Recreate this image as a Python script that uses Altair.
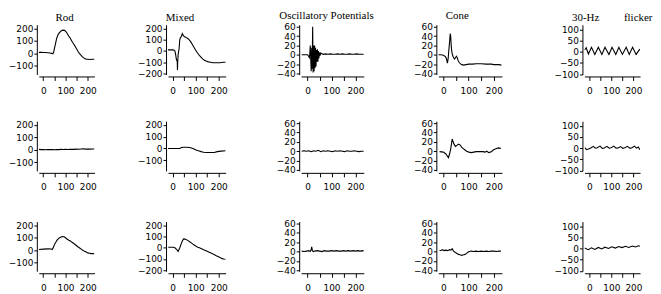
import altair as alt
import pandas as pd

# ---------------- data ----------------
col_titles = ["Rod", "Mixed", "Oscillatory Potentials", "Cone",
              "30-Hz" + "\u00a0" * 9 + "flicker"]

x_ticks = [0, 50, 100, 150, 200]
rod_y_ticks = [-100, 0, 100, 200]
mixed_y_ticks = [-200, -100, 0, 100, 200]
op_y_ticks = [-40, -20, 0, 20, 40, 60]
cone_y_ticks = [-40, -20, 0, 20, 40, 60]
flicker_y_ticks = [-100, -50, 0, 50, 100]

# Row 1
rod1_t = [-20, -10, 0, 10, 20, 30, 38, 43, 47, 50, 54, 57, 60, 64, 68, 72, 76, 80, 85, 90, 95, 100,
          107, 114, 120, 125, 130, 136, 142, 147, 152, 157, 162, 168, 174, 179, 186, 193, 200, 210, 220, 230]
rod1_v = [8, 8, 7, 7, 5, 3, 0, -4, 10, 38, 70, 95, 118, 140, 155, 165, 173, 180, 185, 187, 185, 178,
          162, 140, 125, 110, 93, 77, 60, 45, 29, 13, 0, -12, -24, -33, -42, -48, -48, -49, -48, -48]

mixed1_t = [-20, -10, 0, 5, 10, 13, 16, 18, 20, 21, 22, 24, 26, 28, 31, 34, 38, 42, 46, 50, 55, 60,
            67, 74, 81, 88, 95, 102, 109, 116, 123, 130, 138, 145, 155, 165, 175, 190, 205, 220, 230]
mixed1_v = [10, 10, 10, 8, 0, -30, -70, -85, -90, -170, -100, -30, -5, 20, 100, 120, 130, 155, 140, 130, 125, 120,
            110, 95, 75, 50, 25, 0, -20, -40, -55, -70, -82, -90, -97, -100, -105, -105, -105, -100, -100]

op1_t = [-25, -15, -5, 0, 4, 7, 9, 11, 13, 15, 17, 19, 21, 23, 25, 27, 29, 31, 33, 35, 37, 39, 41, 43, 45,
         47, 49, 52, 55, 60, 65, 75, 85, 95, 105, 115, 125, 135, 145, 155, 165, 175, 185, 195, 205, 215, 225, 235]
op1_v = [0, 0, 0, 0, -3, -6, 2, 20, -10, -35, 15, -30, 60, -38, 20, -35, 20, -28, 15, -25, 10, -15, 12, -15, 8,
         -8, 5, -2, 4, 2, 1, 2, 1, 2, 1, 1, 2, 1, 2, 1, 1, 2, 1, 1, 2, 1, 1, 1]

cone1_t = [-20, -10, 0, 8, 12, 16, 19, 22, 25, 27, 29, 31, 33, 36, 40, 44, 48, 52, 55, 58, 62, 67, 73, 80, 90,
           100, 115, 130, 150, 170, 190, 200, 210, 220, 230]
cone1_v = [0, 0, -1, -4, -8, -18, -8, 12, 30, 45, 40, 20, 8, 0, -6, -9, -6, -3, -6, -12, -16, -19, -21, -22, -21,
           -20, -20, -19, -19, -20, -20, -21, -21, -21, -22]

flick1_t = [-21, -14, -4, 10, 25, 41, 57, 71, 89, 103, 120, 134, 150, 167, 181, 196, 212, 229]
flick1_v = [8, 18, -10, 20, -12, 20, -12, 20, -12, 20, -12, 20, -12, 20, -12, 20, -12, 12]

# Row 2
rod2_t = [-20, -10, 0, 10, 20, 30, 40, 50, 60, 70, 80, 90, 100, 110, 120, 130, 140, 150, 160, 170, 180, 190,
          200, 210, 220, 230]
rod2_v = [3, 1, 2, 0, 1, 2, 1, 0, 2, 1, 3, 2, 4, 2, 3, 4, 3, 5, 4, 6, 8, 5, 6, 5, 6, 6]

mixed2_t = [-20, 0, 20, 31, 38, 50, 60, 74, 88, 102, 112, 123, 135, 145, 160, 180, 194, 210, 230]
mixed2_v = [0, 0, 0, 0, 8, 10, 10, 8, 0, -13, -20, -27, -32, -35, -35, -35, -27, -23, -20]

op2_t = [-25, -15, -5, 5, 15, 25, 35, 45, 55, 65, 75, 85, 95, 105, 115, 125, 135, 145, 155, 165, 175, 185,
         195, 205, 215, 225, 235]
op2_v = [0, 1, 0, 1, -1, 1, 0, 2, -1, 1, 0, 1, 0, -1, 1, 0, 1, 0, -1, 1, 0, 0, 1, 0, -1, 0, 0]

cone2_t = [-15, 0, 10, 20, 25, 29, 35, 42, 48, 55, 60, 67, 73, 82, 92, 101, 111, 120, 130, 140, 148, 157,
           165, 172, 180, 190, 199, 208, 218, 224, 228]
cone2_v = [-1, -2, -6, -14, -5, 5, 26, 15, 10, 13, 15, 13, 8, 4, 0, -2, -3, -2, -1, -1, -1, -1,
           -2, 0, -3, -1, 3, 5, 7, 6, 7]

flick2_t = [-21, -12, -4, 5, 18, 28, 36, 49, 59, 68, 80, 90, 99, 111, 121, 130, 142, 152, 161, 173, 183, 192,
            204, 214, 222, 229]
flick2_v = [2, -7, -4, 0, 8, 0, 2, 9, -1, 1, 8, 0, 2, 9, 0, 1, 7, -1, 2, 8, 0, 1, 9, 0, 5, -7]

# Row 3
rod3_t = [-20, 0, 23, 35, 40, 45, 51, 57, 62, 67, 72, 80, 87, 94, 101, 108, 115, 122, 129, 136, 143, 150,
          157, 165, 172, 179, 186, 193, 200, 207, 214, 222, 229]
rod3_v = [5, 8, 10, 9, 5, 20, 48, 65, 80, 90, 98, 105, 110, 107, 98, 88, 80, 73, 63, 55, 45, 35,
          25, 15, 6, -3, -10, -15, -22, -25, -28, -28, -28]

mixed3_t = [-19, -5, 3, 10, 17, 24, 31, 38, 43, 48, 54, 60, 67, 74, 81, 88, 95, 102, 109, 116, 123, 130,
            137, 145, 152, 159, 166, 173, 180, 187, 194, 201, 208, 215, 222, 230]
mixed3_v = [5, 5, 5, 0, -13, -32, 0, 40, 65, 80, 78, 73, 64, 54, 44, 33, 23, 13, 6, 0, -6, -13,
            -20, -27, -33, -40, -47, -54, -60, -68, -75, -82, -90, -97, -101, -103]

op3_t = [-25, -15, -5, 5, 10, 14, 17, 20, 24, 30, 40, 50, 60, 70, 80, 90, 100, 110, 120, 130, 140, 150,
         160, 170, 180, 190, 200, 210, 220, 230, 235]
op3_v = [1, 0, 1, 2, 0, 3, 10, 2, 0, 1, 2, 1, 0, 2, 1, 1, 2, 1, 2, 1, 1, 2, 1, 2, 1, 2, 1, 2, 1, 2, 1]

cone3_t = [-15, -8, -3, 3, 10, 17, 25, 30, 35, 40, 48, 54, 60, 66, 73, 80, 86, 92, 98, 104, 111, 120,
           130, 140, 150, 160, 170, 180, 190, 200, 210, 220, 228]
cone3_v = [2, 3, 4, 2, 3, 2, 4, 3, 6, 1, -2, -4, -6, -7, -8, -7, -6, -4, -1, 0, 1, 0,
           1, 0, 1, 0, 1, 0, 1, 1, 0, 1, 1]

flick3_t = [-21, -5, 10, 25, 41, 56, 71, 87, 102, 118, 133, 148, 164, 179, 195, 210, 222, 229]
flick3_v = [2, -5, 3, -4, 5, -2, 6, 0, 8, 2, 9, 4, 10, 5, 11, 7, 12, 10]

# ---------------- layout ----------------
LABEL_FONT = "DejaVu Sans, Liberation Sans, Arial, sans-serif"
PANEL_H = 50
col_widths = [56, 58, 63, 64, 56]
col_gaps = [74, 76, 75, 83]
row_gaps = [47, 51]
title_dx = [-2, -17, -6, -13, 0]

x_domains = [[-20, 230], [-20, 230], [-27, 235], [-20, 232], [-22, 230]]
y_domains = [[-170, 230], [-210, 235], [-42, 64], [-42, 64], [-102, 121]]
y_tick_sets = [rod_y_ticks, mixed_y_ticks, op_y_ticks, cone_y_ticks, flicker_y_ticks]


def panel(t, v, c, title=None, ydom=None):
    df = pd.DataFrame({"t": t, "v": v})
    ch = alt.Chart(df).mark_line(color="black", strokeWidth=1.1, clip=True).encode(
        x=alt.X("t:Q",
                scale=alt.Scale(domain=x_domains[c], nice=False, zero=False),
                axis=alt.Axis(values=x_ticks, title=None, offset=2, tickSize=4, labelPadding=6,
                              labelExpr="datum.value % 100 == 0 ? datum.label : ''")),
        y=alt.Y("v:Q",
                scale=alt.Scale(domain=ydom or y_domains[c], nice=False, zero=False),
                axis=alt.Axis(values=y_tick_sets[c], title=None, offset=2, tickSize=3, labelPadding=1)),
    ).properties(width=col_widths[c], height=PANEL_H)
    if title is not None:
        ch = ch.properties(title=alt.TitleParams(text=title, dx=title_dx[c]))
    return ch


def spacer(w, h):
    return alt.Chart(pd.DataFrame({"a": [0]})).mark_point(opacity=0, size=1).encode(
        x=alt.value(0), y=alt.value(0)).properties(width=w, height=h)


rows = [
    [panel(rod1_t, rod1_v, 0, col_titles[0]), panel(mixed1_t, mixed1_v, 1, col_titles[1]),
     panel(op1_t, op1_v, 2, col_titles[2]), panel(cone1_t, cone1_v, 3, col_titles[3]),
     panel(flick1_t, flick1_v, 4, col_titles[4])],
    [panel(rod2_t, rod2_v, 0), panel(mixed2_t, mixed2_v, 1, ydom=[-191, 232]),
     panel(op2_t, op2_v, 2), panel(cone2_t, cone2_v, 3), panel(flick2_t, flick2_v, 4)],
    [panel(rod3_t, rod3_v, 0), panel(mixed3_t, mixed3_v, 1),
     panel(op3_t, op3_v, 2), panel(cone3_t, cone3_v, 3), panel(flick3_t, flick3_v, 4)],
]

items = []
for r, row in enumerate(rows):
    for c, p in enumerate(row):
        items.append(p)
        if c < 4:
            items.append(spacer(col_gaps[c], 1))
    if r < 2:
        for k in range(9):
            items.append(spacer(1, row_gaps[r] if k == 0 else 1))

chart = alt.ConcatChart(
    concat=items, columns=9, spacing=0, bounds="flush", align="each", padding=0
).configure_view(stroke=None).configure_axis(
    grid=False, domainColor="black", tickColor="black", labelColor="black",
    labelFont=LABEL_FONT, labelFontSize=9, minExtent=0, labelOverlap=False,
    labelFlush=False, domainWidth=1, tickWidth=1
).configure_title(
    font="Liberation Serif", fontSize=11, fontWeight="normal", anchor="middle",
    offset=2, color="black"
)

chart.save("out.html", embed_options={"renderer": "svg", "actions": False})
